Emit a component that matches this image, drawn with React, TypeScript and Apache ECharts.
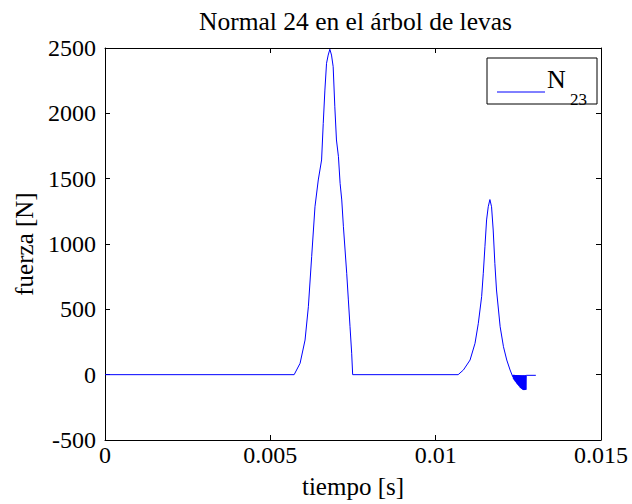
import React, { useEffect, useRef } from "react";
import * as echarts from "echarts";

const titleText = "Normal 24 en el árbol de levas";
const xName = "tiempo [s]";
const yName = "fuerza [N]";
const legendMain = "N";
const legendSub = "23";

const xTicks = [0, 0.005, 0.01, 0.015];
const yTicks = [-500, 0, 500, 1000, 1500, 2000, 2500];

// time [s]
const tiempo = [
  0, 0.00572, 0.0059, 0.00605, 0.00615, 0.00625, 0.00635, 0.00645, 0.00655, 0.0066,
  0.00665, 0.0067, 0.00675, 0.0068, 0.00685, 0.0069, 0.00695, 0.007, 0.00706, 0.00711,
  0.00716, 0.00721, 0.00726, 0.00731, 0.00736, 0.00741, 0.00746, 0.00749,
  0.01068, 0.01084, 0.01104, 0.01119, 0.01129, 0.01139, 0.01144, 0.01149, 0.01154, 0.01159,
  0.01164, 0.01169, 0.01174, 0.01179, 0.01184, 0.0119, 0.01195, 0.01205, 0.01215, 0.01225,
  0.01233,
  0.01234, 0.01235, 0.01236, 0.01237, 0.01238, 0.01239, 0.0124, 0.01241, 0.01242, 0.01243,
  0.01244, 0.01245, 0.01246, 0.01247, 0.01248, 0.01249, 0.0125, 0.01251, 0.01252, 0.01253,
  0.01254, 0.01255, 0.01256, 0.01257, 0.01258, 0.01259, 0.0126, 0.01261, 0.01262, 0.01263,
  0.01264, 0.01265, 0.01266, 0.01267, 0.01268, 0.01269, 0.0127, 0.01271, 0.01272, 0.01273,
  0.01274, 0.01303,
];

// force [N]
const fuerza = [
  0, 0, 87, 265, 520, 903, 1285, 1490, 1643, 1923,
  2178, 2383, 2446, 2490, 2446, 2357, 2050, 1796, 1668, 1464,
  1337, 1132, 954, 776, 572, 367, 164, 0,
  0, 36, 112, 240, 393, 597, 776, 979, 1184, 1285,
  1340, 1285, 1107, 852, 648, 495, 367, 214, 112, 36,
  -15,
  -2, -30, -2, -38, -2, -45, -3, -52, -3, -58,
  -3, -66, -4, -72, -4, -79, -4, -84, -5, -89,
  -5, -97, -5, -101, -6, -106, -6, -110, -6, -113,
  -6, -117, -6, -118, -6, -117, -6, -116, -5, -115,
  -5, -5,
];

const FONT = "'Liberation Serif', 'Times New Roman', serif";

export default function App() {
  const ref = useRef<HTMLDivElement>(null);
  useEffect(() => {
    document.body.style.margin = "0";
    if (!ref.current) return;
    const chart = echarts.init(ref.current, null, { renderer: "svg" });
    const data = tiempo.map((t, i) => [t, fuerza[i]]);
    const fmtX = (v: number) => String(+v.toFixed(3));
    const fmtY = (v: number) => String(Math.round(v));
    const xBase = {
      type: "value",
      min: xTicks[0],
      max: xTicks[xTicks.length - 1],
      interval: xTicks[1] - xTicks[0],
      splitLine: { show: false },
      axisLine: { show: true, onZero: false, lineStyle: { color: "#000", width: 1 } },
      axisTick: { show: true, inside: true, length: 5, lineStyle: { color: "#000" } },
    };
    const yBase = {
      type: "value",
      min: yTicks[0],
      max: yTicks[yTicks.length - 1],
      interval: yTicks[1] - yTicks[0],
      splitLine: { show: false },
      axisLine: { show: true, onZero: false, lineStyle: { color: "#000", width: 1 } },
      axisTick: { show: true, inside: true, length: 5, lineStyle: { color: "#000" } },
    };
    chart.setOption({
      animation: false,
      backgroundColor: "#fff",
      title: {
        text: titleText,
        left: 199,
        top: 8,
        padding: 0,
        textStyle: { fontFamily: FONT, fontSize: 25.5, fontWeight: "normal", color: "#000" },
      },
      grid: { left: 105, right: 31, top: 48, bottom: 64, containLabel: false },
      xAxis: [
        {
          ...xBase,
          position: "bottom",
          name: xName,
          nameLocation: "middle",
          nameGap: 34,
          nameTextStyle: { fontFamily: FONT, fontSize: 25, color: "#000" },
          axisLabel: {
            show: true,
            margin: 3,
            fontFamily: FONT,
            fontSize: 24,
            color: "#000",
            formatter: fmtX,
          },
        },
        { ...xBase, position: "top", axisLabel: { show: false } },
      ],
      yAxis: [
        {
          ...yBase,
          position: "left",
          name: yName,
          nameLocation: "middle",
          nameGap: 68,
          nameRotate: 90,
          nameTextStyle: { fontFamily: FONT, fontSize: 25, color: "#000" },
          axisLabel: {
            show: true,
            margin: 9,
            fontFamily: FONT,
            fontSize: 24,
            color: "#000",
            formatter: fmtY,
          },
        },
        { ...yBase, position: "right", axisLabel: { show: false } },
      ],
      series: [
        {
          type: "line",
          name: legendMain + legendSub,
          data,
          xAxisIndex: 0,
          yAxisIndex: 0,
          showSymbol: false,
          symbol: "none",
          lineStyle: { color: "#0000ff", width: 1 },
          itemStyle: { color: "#0000ff" },
        },
      ],
      graphic: [
        {
          type: "rect",
          shape: { x: 487, y: 58, width: 110, height: 46 },
          style: { fill: "#fff", stroke: "#000", lineWidth: 1 },
          z: 10,
        },
        {
          type: "line",
          shape: { x1: 497, y1: 92, x2: 545, y2: 92 },
          style: { stroke: "#0000ff", lineWidth: 1 },
          z: 11,
        },
        {
          type: "text",
          x: 547,
          y: 79,
          style: {
            text: legendMain,
            font: `26px ${FONT}`,
            fill: "#000",
            align: "left",
            verticalAlign: "middle",
          },
          z: 11,
        },
        {
          type: "text",
          x: 570,
          y: 99,
          style: {
            text: legendSub,
            font: `17px ${FONT}`,
            fill: "#000",
            align: "left",
            verticalAlign: "middle",
          },
          z: 11,
        },
      ],
    });
    return () => chart.dispose();
  }, []);
  return <div ref={ref} style={{ width: 632, height: 504 }} />;
}
